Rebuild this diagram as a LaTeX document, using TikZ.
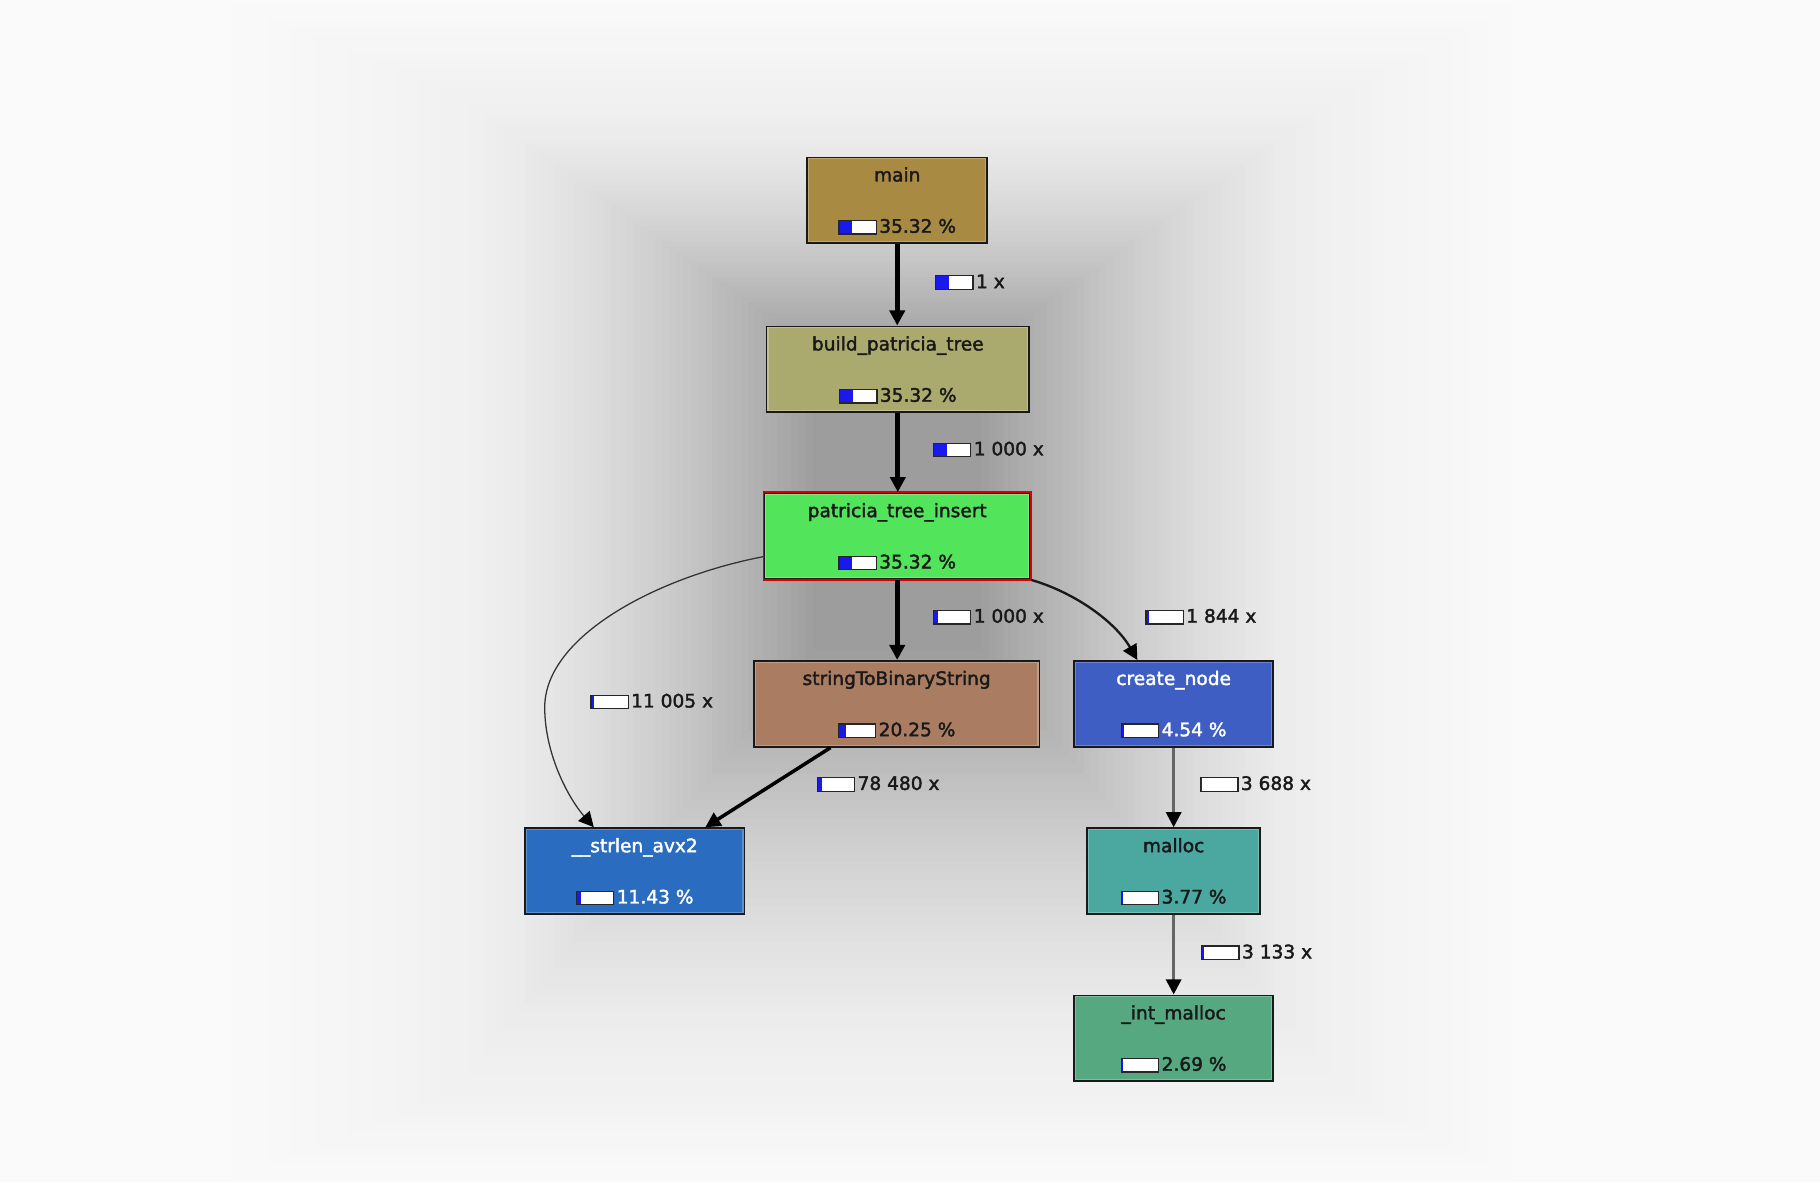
\documentclass[tikz,border=0pt]{standalone}
\usepackage{fontspec}
\setmainfont{DejaVu Sans}[FakeBold=2]
\usetikzlibrary{arrows.meta,calc}
\definecolor{barblue}{RGB}{25,25,235}
\definecolor{cmain}{RGB}{168,138,66}
\definecolor{cbuild}{RGB}{170,170,110}
\definecolor{cpti}{RGB}{82,228,90}
\definecolor{cstr}{RGB}{170,125,98}
\definecolor{ccreate}{RGB}{62,94,196}
\definecolor{cstrlen}{RGB}{42,108,192}
\definecolor{cmalloc}{RGB}{74,168,160}
\definecolor{cint}{RGB}{85,168,128}
\definecolor{tdark}{RGB}{25,25,25}
\newcommand\pbar[1]{{\setlength{\fboxsep}{0pt}\setlength{\fboxrule}{1.1pt}\raisebox{-0.5pt}{\fcolorbox{black!85}{white}{\textcolor{barblue}{\rule{#1pt}{10.5pt}}\hspace{\dimexpr 31pt-#1pt\relax}}}}}
\tikzset{
  fnbox/.style={draw=black!90, line width=1.5pt, minimum height=74pt, inner sep=0pt, rectangle},
  fntext/.style={font=\fontsize{16}{19}\selectfont, inner sep=0pt},
  elabel/.style={font=\fontsize{16}{19}\selectfont, inner sep=0pt, anchor=west, text=tdark},
  tip/.style={-{Triangle[length=13pt,width=13pt,color=black]}},
  ethick/.style={tip, line width=4.5pt, black},
  emid/.style={tip, line width=3pt, black},
  ethin/.style={tip, line width=2pt, black!90},
  ehair/.style={tip, line width=1.1pt, black!80},
  egray/.style={tip, line width=2.6pt, black!60},
}
% name, cx, cy, width, fill, text colour, title, bar fraction, percent
\newcommand\fn[9]{%
  \node[fnbox, fill=#5, minimum width=#4pt] (#1) at (#2,#3) {};
  \draw[#5!75!white, line width=1pt] ([shift={(2pt,2pt)}]#1.south west) rectangle ([shift={(-2pt,-2pt)}]#1.north east);
  \node[fntext, text=#6, anchor=base] (#1T) at ([yshift=-21.5pt]#1.north) {#7};
  \node[fntext, text=#6] (#1P) at ([yshift=15pt]#1.south) {\pbar{#8}\hspace{2pt}#9};
}
\begin{document}
\begin{tikzpicture}[x=1pt,y=-1pt]
\useasboundingbox (0,0) rectangle (1567,1018);
% background
\fill[black!2] (0,0) rectangle (1567,1018);
\foreach \i in {0,...,20}{
  \pgfmathsetmacro\t{\i/20}
  \pgfmathsetmacro\xa{190+(390-190)*\t}
  \pgfmathsetmacro\xb{1310+(1160-1310)*\t}
  \pgfmathsetmacro\ya{0+(80-0)*\t}
  \pgfmathsetmacro\yb{1018+(940-1018)*\t}
  \pgfmathsetmacro\c{2+3.5*\t}
  \fill[black!\c] (\xa,\ya) rectangle (\xb,\yb);
}
\foreach \i in {1,...,50}{
  \pgfmathsetmacro\t{\i/50}
  \pgfmathsetmacro\xa{390+(700-390)*\t}
  \pgfmathsetmacro\xb{1160+(845-1160)*\t}
  \pgfmathsetmacro\ya{80+(300-80)*\t}
  \pgfmathsetmacro\yb{940+(560-940)*\t}
  \pgfmathsetmacro\c{5.5+33*(\t^1.5)}
  \fill[black!\c] (\xa,\ya) rectangle (\xb,\yb);
}
% nodes
\fn{main}{772.5}{172.5}{155}{cmain}{tdark}{main}{11}{35.32 \%}
\fn{build}{773}{318}{226}{cbuild}{tdark}{build\_patricia\_tree}{11}{35.32 \%}
\fn{pti}{772.5}{461.5}{229}{cpti}{tdark}{patricia\_tree\_insert}{11}{35.32 \%}
\draw[red!85!black, line width=1.5pt] (pti.south west) rectangle (pti.north east);
\fn{str}{772}{606}{246}{cstr}{tdark}{stringToBinaryString}{6.3}{20.25 \%}
\fn{create}{1010.5}{606}{171}{ccreate}{white}{create\_node}{1.4}{4.54 \%}
\fn{strlen}{546.5}{750}{189}{cstrlen}{white}{\_\_strlen\_avx2}{3.5}{11.43 \%}
\fn{malloc}{1010.5}{750}{149}{cmalloc}{tdark}{malloc}{1.2}{3.77 \%}
\fn{intm}{1010.5}{894}{171}{cint}{tdark}{\_int\_malloc}{0.8}{2.69 \%}
% edges
\draw[ethick] (main.south) -- (main.south |- build.north);
\draw[ethick] (build.south) -- (build.south |- pti.north);
\draw[ethick] (pti.south) -- (pti.south |- str.north);
\draw[ethin] (pti.south east) .. controls (925,510) and (960,535) .. ([xshift=55pt]create.north west);
\draw[ehair] ([yshift=20pt]pti.south west) .. controls (565,497) and (469,548) .. (469,609) .. controls (469,650) and (490,688) .. ([xshift=60pt]strlen.north west);
\draw[emid] ([xshift=-57pt]str.south) -- ([xshift=156pt]strlen.north west);
\draw[egray] (create.south) -- (create.south |- malloc.north);
\draw[egray] (malloc.south) -- (malloc.south |- intm.north);
% edge labels
\node[elabel] (l1) at (805,243) {\pbar{11}\hspace{2pt}1 x};
\node[elabel] (l2) at (803,387) {\pbar{11}\hspace{2pt}1 000 x};
\node[elabel] (l3) at (803,531) {\pbar{3.5}\hspace{2pt}1 000 x};
\node[elabel] (l4) at (986,531) {\pbar{2}\hspace{2pt}1 844 x};
\node[elabel] (l5) at (508,604) {\pbar{2}\hspace{2pt}11 005 x};
\node[elabel] (l6) at (703,675) {\pbar{3}\hspace{2pt}78 480 x};
\node[elabel] (l7) at (1033,675) {\pbar{1}\hspace{2pt}3 688 x};
\node[elabel] (l8) at (1034,820) {\pbar{1}\hspace{2pt}3 133 x};
\end{tikzpicture}
\end{document}
